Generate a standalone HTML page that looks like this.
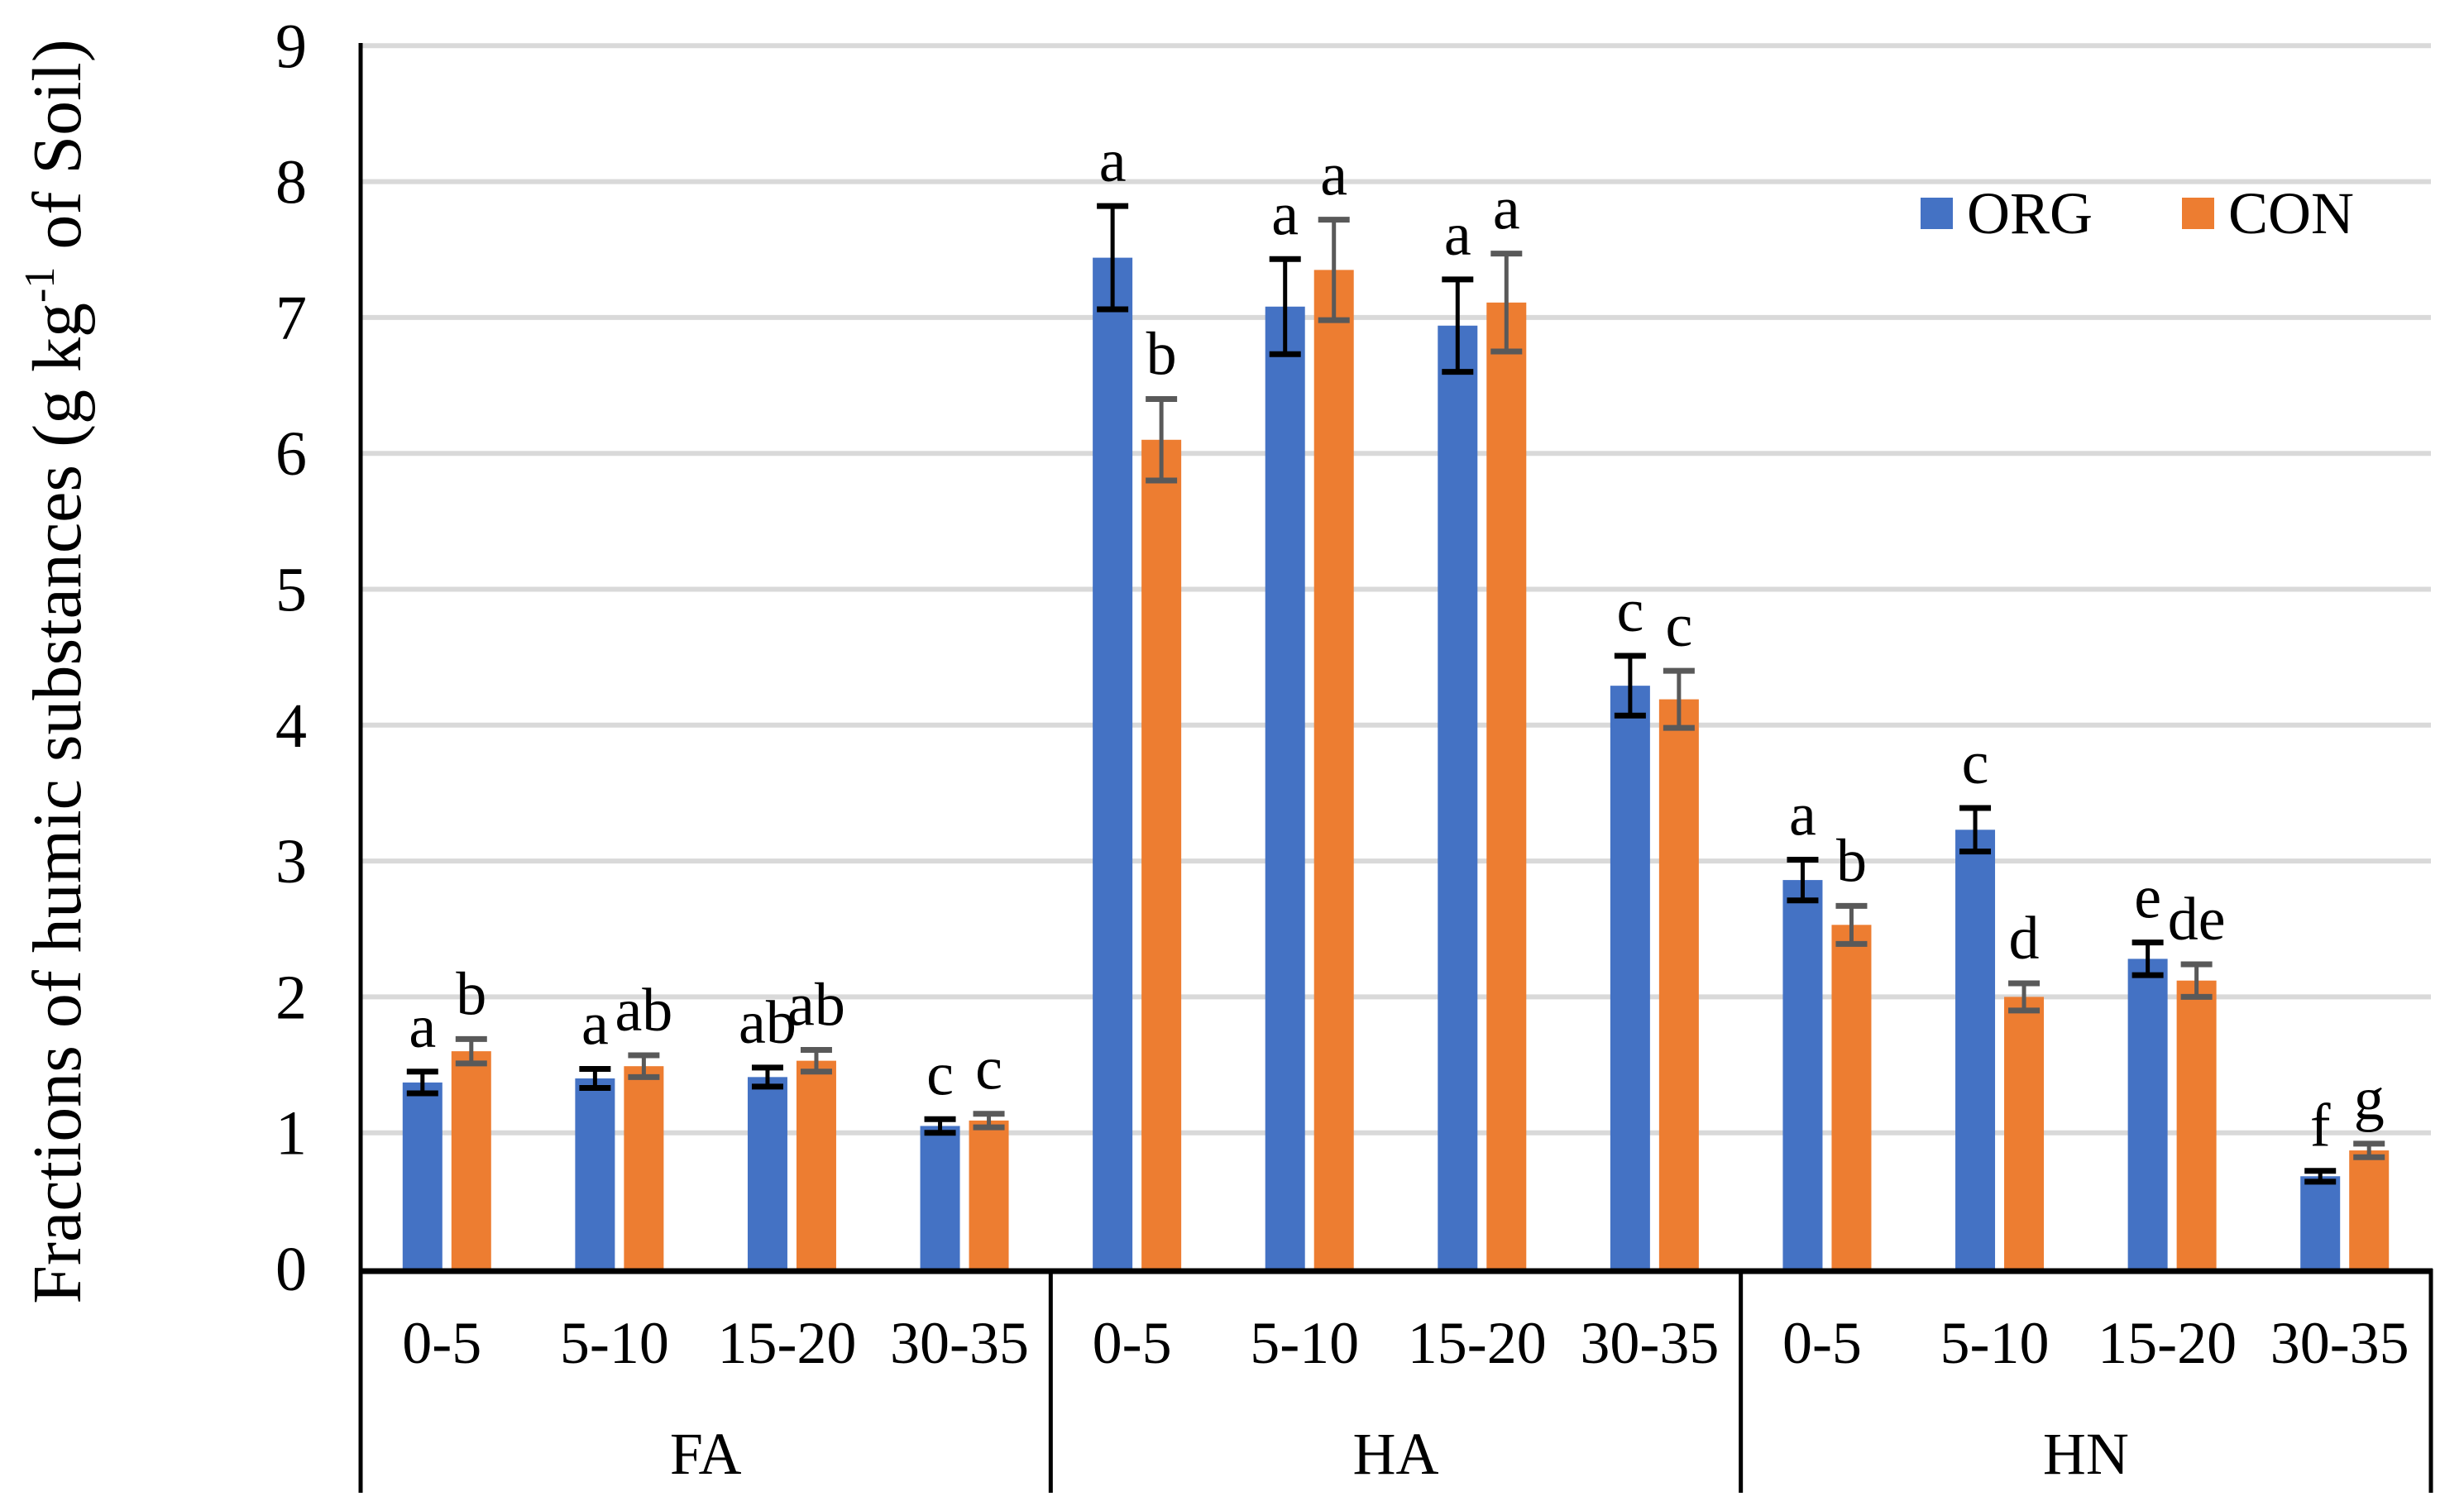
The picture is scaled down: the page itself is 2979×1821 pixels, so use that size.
<!DOCTYPE html>
<html><head><meta charset="utf-8">
<style>
html,body{margin:0;padding:0;background:#fff;}
svg{display:block;font-family:"Liberation Serif",serif;}
</style></head>
<body>
<svg id="chart" width="2979" height="1821" viewBox="0 0 2979 1821" xmlns="http://www.w3.org/2000/svg">
<g id="grid"></g>
<g id="yticks"></g>
<g id="bars"></g>
<g id="axes"></g>
<g id="xlabels"></g>
<text transform="translate(97,812) rotate(-90)" text-anchor="middle" font-size="84">Fractions of humic substances (g kg<tspan font-size="52" dy="-32">-1</tspan><tspan dy="32"> of  Soil)</tspan></text>
<g>
<rect x="2322" y="239" width="39" height="38" fill="#4472C4"/>
<text x="2378" y="282" font-size="72">ORG</text>
<rect x="2638" y="239" width="39" height="38" fill="#ED7D31"/>
<text x="2694" y="282" font-size="72">CON</text>
</g>
</svg>
<script>
const groups = ["FA","HA","HN"];
const depths = ["0-5","5-10","15-20","30-35"];
const yTicks = [0,1,2,3,4,5,6,7,8,9];
const orgValues = [1.37,1.40,1.41,1.05, 7.44,7.08,6.94,4.29, 2.86,3.23,2.28,0.68];
const conValues = [1.60,1.49,1.53,1.09, 6.10,7.35,7.11,4.19, 2.53,2.00,2.12,0.87];
const orgErr = [0.08,0.07,0.07,0.05, 0.38,0.35,0.34,0.22, 0.15,0.16,0.12,0.04];
const conErr = [0.09,0.08,0.08,0.05, 0.30,0.37,0.36,0.21, 0.14,0.10,0.12,0.05];
const orgLetters = ["a","a","ab","c", "a","a","a","c", "a","c","e","f"];
const conLetters = ["b","ab","ab","c", "b","a","a","c", "b","d","de","g"];

const NS="http://www.w3.org/2000/svg";
const X0=436, X1=2939, Y0=1534, UNIT=164.3;
const nCat=orgValues.length, catW=(X1-X0)/nCat;
const y=v=>Y0-v*UNIT;
const xc=i=>X0+(i+0.5)*catW;
function mk(tag,attrs,parent){const e=document.createElementNS(NS,tag);for(const k in attrs)e.setAttribute(k,attrs[k]);parent.appendChild(e);return e;}
const grid=document.getElementById('grid'),yt=document.getElementById('yticks'),bars=document.getElementById('bars'),axes=document.getElementById('axes'),xl=document.getElementById('xlabels');

yTicks.forEach(t=>{
  if(t>0){
    const g=mk('line',{x1:X0,x2:X1,y1:y(t),y2:y(t),stroke:'#D9D9D9','stroke-width':6},grid);
    
    
  }
  const tx=mk('text',{x:352,y:y(t)+26,'text-anchor':'middle','font-size':76},yt);
  tx.textContent=t;
  
  
});

const BW=48, GAP=11;
function drawBar(i,val,err,letter,color,ecol,off,name){
  const cx=xc(i)+off;
  const r=mk('rect',{x:cx-BW/2,y:y(val),width:BW,height:Y0-y(val),fill:color},bars);
  
  
  const eg=mk('g',{stroke:ecol,'stroke-width':5},bars);
  
  
  mk('line',{x1:cx,x2:cx,y1:y(val+err),y2:y(val-err)},eg);
  mk('line',{x1:cx-19,x2:cx+19,y1:y(val+err),y2:y(val+err),'stroke-width':7},eg);
  mk('line',{x1:cx-19,x2:cx+19,y1:y(val-err),y2:y(val-err),'stroke-width':7},eg);
  const t=mk('text',{x:cx,y:y(val+err)-30,'text-anchor':'middle','font-size':74},bars);
  t.textContent=letter;
  
  
}
for(let i=0;i<nCat;i++){
  drawBar(i,orgValues[i],orgErr[i],orgLetters[i],'#4472C4','#000',-(BW+GAP)/2,'org');
  drawBar(i,conValues[i],conErr[i],conLetters[i],'#ED7D31','#595959',(BW+GAP)/2,'con');
}

const ya=mk('line',{x1:X0,x2:X0,y1:52,y2:1805,stroke:'#000','stroke-width':5},axes);

const xa=mk('line',{x1:X0-2,x2:X1+2,y1:Y0+3,y2:Y0+3,stroke:'#000','stroke-width':7},axes);

for(let g=1;g<=groups.length;g++){
  const sx=X0+g*depths.length*catW;
  const s=mk('line',{x1:sx,x2:sx,y1:Y0,y2:1805,stroke:'#000','stroke-width':5},axes);
  
  
}
for(let i=0;i<nCat;i++){
  const t=mk('text',{x:xc(i)-6,y:1648,'text-anchor':'middle','font-size':72},xl);
  t.textContent=depths[i%depths.length];
  
  
}
groups.forEach((g,k)=>{
  const cx=X0+(k+0.5)*depths.length*catW;
  const t=mk('text',{x:cx,y:1782,'text-anchor':'middle','font-size':72},xl);
  t.textContent=g;
  
  
});
</script>
</body></html>
